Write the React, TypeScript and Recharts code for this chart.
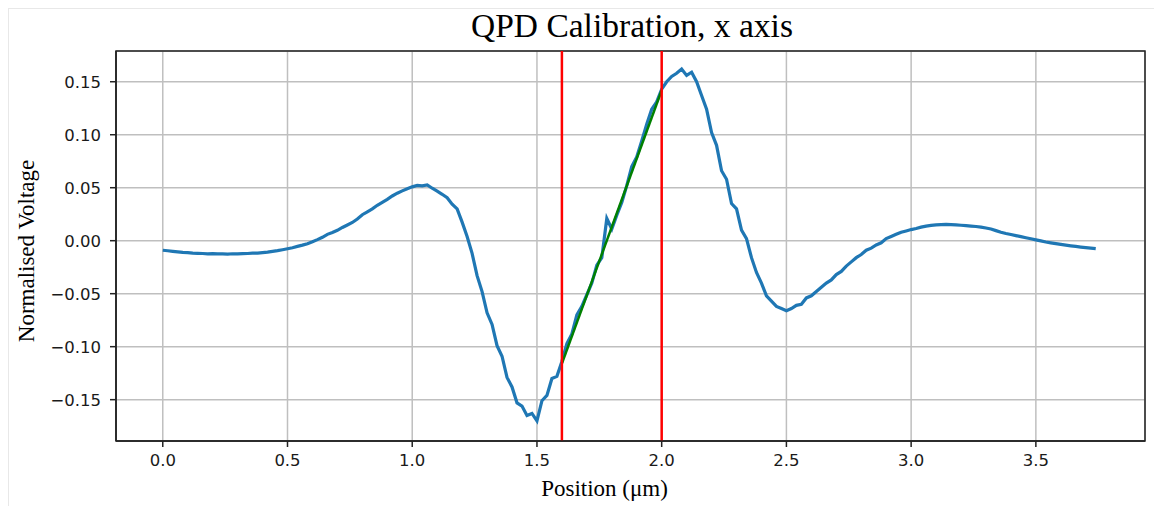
import {
  LineChart,
  Line,
  XAxis,
  YAxis,
  CartesianGrid,
  ReferenceLine,
  ReferenceArea,
  Label,
} from "recharts";

// sample spacing of the position scan (µm)
const STEP = 0.02;

// normalised QPD voltage, one value per STEP starting at 0.00 µm
const VOLTAGE = [
  -0.009, -0.0095, -0.01, -0.0105, -0.011, -0.0113, -0.0118, -0.012, -0.0121, -0.0124,
  -0.0122, -0.0125, -0.0124, -0.0126, -0.0123, -0.0125, -0.0122, -0.0121, -0.0118, -0.0117,
  -0.0113, -0.0108, -0.0101, -0.0094, -0.0085, -0.0076, -0.0066, -0.0054, -0.0042, -0.0028,
  -0.001, 0.001, 0.0032, 0.006, 0.0078, 0.0098, 0.0125, 0.0148, 0.0172, 0.0205,
  0.0245, 0.0272, 0.03, 0.0334, 0.0362, 0.039, 0.0422, 0.0448, 0.047, 0.049,
  0.0508, 0.0522, 0.0518, 0.0526, 0.0495, 0.0468, 0.0438, 0.0405, 0.0345, 0.03,
  0.0175, 0.004, -0.012, -0.033, -0.048, -0.068, -0.079, -0.099, -0.109, -0.129,
  -0.138, -0.153, -0.156, -0.165, -0.163, -0.17, -0.151, -0.146, -0.13, -0.128,
  -0.114, -0.097, -0.088, -0.07, -0.062, -0.051, -0.04, -0.023, -0.016, 0.021,
  0.011, 0.024, 0.036, 0.052, 0.07, 0.079, 0.094, 0.11, 0.124, 0.131,
  0.143, 0.15, 0.155, 0.158, 0.162, 0.156, 0.159, 0.15, 0.137, 0.124,
  0.102, 0.09, 0.066, 0.058, 0.035, 0.03, 0.01, 0.002, -0.016, -0.03,
  -0.04, -0.052, -0.057, -0.062, -0.064, -0.066, -0.064, -0.061, -0.06, -0.054,
  -0.052, -0.048, -0.044, -0.04, -0.037, -0.032, -0.029, -0.024, -0.02, -0.016,
  -0.013, -0.009, -0.007, -0.004, -0.002, 0.002, 0.004, 0.006, 0.008, 0.0092,
  0.0105, 0.0115, 0.0128, 0.0138, 0.0145, 0.015, 0.0152, 0.0154, 0.0152, 0.015,
  0.0146, 0.0142, 0.0138, 0.0134, 0.0128, 0.012, 0.011, 0.0095, 0.008, 0.0068,
  0.0058, 0.0048, 0.0038, 0.0028, 0.0018, 0.0008, -0.0002, -0.0012, -0.002, -0.0028,
  -0.0035, -0.0042, -0.0048, -0.0054, -0.006, -0.0065, -0.007, -0.0075,
];

// linear fit over the calibration window
const FIT_X = [1.6, 2.0];
const FIT_Y = [-0.116, 0.142];

// calibration window bounds (red markers)
const WINDOW = [1.6, 2.0];

const X_TICKS = [0, 0.5, 1.0, 1.5, 2.0, 2.5, 3.0, 3.5];
const Y_TICKS = [-0.15, -0.1, -0.05, 0, 0.05, 0.1, 0.15];
const X_DOMAIN = [-0.1875, 3.9375];
const Y_DOMAIN = [-0.189, 0.179];

const samples = VOLTAGE.map((v, i) => ({ x: +(i * STEP).toFixed(2), v }));
const fit = FIT_X.map((x, i) => ({ x, v: FIT_Y[i] }));

const tickStyle = { fontSize: 16.5, fill: "#1a1a1a", fontFamily: "DejaVu Sans" };
const serif = "Liberation Serif, Times New Roman, serif";

const fmtY = (v: number) => {
  const s = Math.abs(v).toFixed(2);
  return v < 0 ? `\u2212${s}` : s;
};

export default function App() {
  return (
    <div
      style={{
        position: "absolute",
        left: 0,
        top: 0,
        width: 1154,
        height: 506,
        background: "#fff",
        overflow: "hidden",
      }}
    >
      <div
        style={{
          position: "absolute",
          left: 8,
          top: 8,
          width: 1150,
          height: 500,
          border: "1px solid #e8e8e8",
        }}
      />
      <LineChart
        width={1154}
        height={506}
        margin={{ top: 51, right: 9, bottom: 35, left: 56 }}
      >
        <CartesianGrid stroke="#bfbfbf" strokeWidth={1.5} />
        <XAxis
          dataKey="x"
          type="number"
          domain={X_DOMAIN}
          ticks={X_TICKS}
          allowDataOverflow
          tickFormatter={(v: number) => v.toFixed(1)}
          tick={tickStyle}
          tickSize={6}
          tickMargin={7}
          height={30}
          stroke="#222"
          strokeWidth={1.5}
        >
          <Label
            value="Position (μm)"
            position="bottom"
            offset={9}
            dx={-26}
            style={{ fontFamily: serif, fontSize: 23, fill: "#000" }}
          />
        </XAxis>
        <YAxis
          type="number"
          domain={Y_DOMAIN}
          ticks={Y_TICKS}
          allowDataOverflow
          tickFormatter={fmtY}
          tick={tickStyle}
          tickSize={6}
          tickMargin={9}
          width={60}
          stroke="#222"
          strokeWidth={1.5}
        >
          <Label
            value="Normalised Voltage"
            angle={-90}
            position="left"
            offset={30}
            dy={5}
            style={{ fontFamily: serif, fontSize: 23, fill: "#000", textAnchor: "middle" }}
          />
        </YAxis>
        <ReferenceArea
          x1={X_DOMAIN[0]}
          x2={X_DOMAIN[1]}
          y1={Y_DOMAIN[0]}
          y2={Y_DOMAIN[1]}
          fill="none"
          stroke="#222"
          strokeWidth={1.5}
        />
        <Line
          data={samples}
          dataKey="v"
          stroke="#1f77b4"
          strokeWidth={3.2}
          dot={false}
          isAnimationActive={false}
        />
        <Line
          data={fit}
          dataKey="v"
          stroke="#008000"
          strokeWidth={2.5}
          dot={false}
          isAnimationActive={false}
        />
        {WINDOW.map((x) => (
          <ReferenceLine key={x} x={x} stroke="#ff0000" strokeWidth={2.5} />
        ))}
      </LineChart>
      <div
        style={{
          position: "absolute",
          left: 0,
          width: 1264,
          top: 7,
          textAlign: "center",
          fontFamily: serif,
          fontSize: 33.5,
          lineHeight: "38px",
          color: "#000",
        }}
      >
        QPD Calibration, x axis
      </div>
    </div>
  );
}
